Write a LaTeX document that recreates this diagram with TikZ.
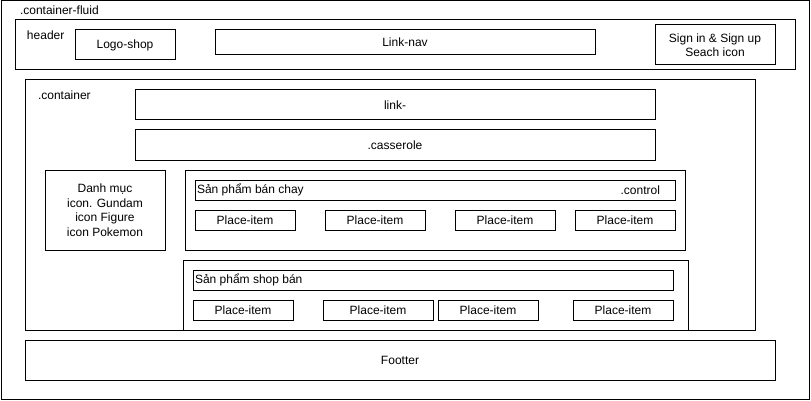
\documentclass[tikz,border=0pt]{standalone}
\usepackage{fontspec}
\setmainfont{Liberation Sans}
\begin{document}
\begin{tikzpicture}[x=1pt,y=-1pt,
  box/.style={draw, line width=1pt, inner sep=0pt, outer sep=0pt, anchor=north west, font=\fontsize{12}{14.5}\selectfont, align=center},
  lbl/.style={inner sep=0pt, outer sep=0pt, anchor=west, font=\fontsize{12}{14.5}\selectfont},
  item/.style={box, minimum width=100, minimum height=20}]
\useasboundingbox (0,0) rectangle (811,401);
\node[box, minimum width=808, minimum height=398] (outer) at (1,1) {};
\node[lbl] (lfluid) at (20,10) {.container-fluid};
\node[box, minimum width=780, minimum height=50] (header) at (15,20) {};
\node[lbl] (lheader) at (27,35) {header};
\node[box, minimum width=100, minimum height=30] (logo) at (75,30) {Logo-shop};
\node[box, minimum width=380, minimum height=25] (nav) at (215,30) {Link-nav};
\node[box, minimum width=120, minimum height=40] (sign) at (655,25) {Sign in \& Sign up\\Seach icon};
\node[box, minimum width=730, minimum height=250] (container) at (25,80) {};
\node[lbl] (lcontainer) at (38,95) {.container};
\node[box, minimum width=520, minimum height=30] (link) at (135,90) {link-};
\node[box, minimum width=520, minimum height=30] (casserole) at (135,130) {.casserole};
\node[box, minimum width=120, minimum height=80] (danh) at (45,170) {Danh mục\\icon. Gundam\\icon Figure\\icon Pokemon};
\node[box, minimum width=500, minimum height=80] (hot) at (185,170) {};
\node[box, minimum width=480, minimum height=20] (hottitle) at (195,180) {};
\node[lbl] (lhot) at ([xshift=2pt]hottitle.west) {Sản phẩm bán chay};
\node[lbl, anchor=east] (lcontrol) at ([xshift=-15pt]hottitle.east) {.control};
\node[item] (p1) at (195,210) {Place-item};
\node[item] (p2) at (325,210) {Place-item};
\node[item] (p3) at (455,210) {Place-item};
\node[item] (p4) at (575,210) {Place-item};
\node[box, minimum width=505, minimum height=70] (shop) at (183,260) {};
\node[box, minimum width=480, minimum height=20] (shoptitle) at (193,270) {};
\node[lbl] (lshop) at ([xshift=2pt]shoptitle.west) {Sản phẩm shop bán};
\node[item] (q1) at (193,300) {Place-item};
\node[item, minimum width=110] (q2) at (323,300) {Place-item};
\node[item] (q3) at (438,300) {Place-item};
\node[item] (q4) at (573,300) {Place-item};
\node[box, minimum width=750, minimum height=40] (footer) at (25,340) {Footter};
\end{tikzpicture}
\end{document}
